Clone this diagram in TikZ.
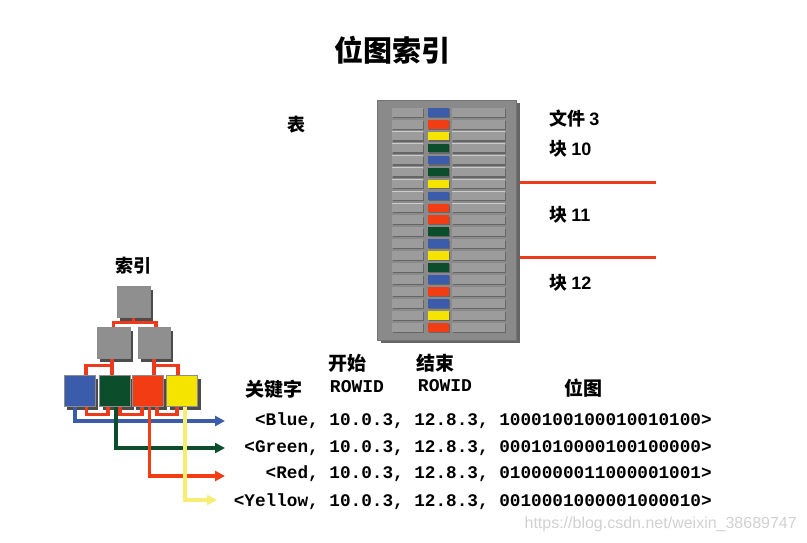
\documentclass[tikz,border=0pt]{standalone}
\usepackage{fontspec}
\newfontfamily\cjk{Noto Sans CJK SC}
\newfontfamily\lsans{Liberation Sans}
\newfontfamily\mono{Liberation Mono}
\usetikzlibrary{arrows.meta,shadows,calc}
\definecolor{cBlue}{HTML}{3B5CAA}
\definecolor{cRed}{HTML}{F23C14}
\definecolor{cYellow}{HTML}{F5E300}
\definecolor{cGreen}{HTML}{0C4E2B}
\definecolor{lineRed}{HTML}{EE3A1C}
\definecolor{lineYellow}{HTML}{F6EE72}
\definecolor{nodeGray}{HTML}{8F8F8F}
\definecolor{tblGray}{HTML}{8A8A8A}
\definecolor{cellGray}{HTML}{9C9C9C}
\tikzset{
  cjklabel/.style={inner sep=0pt, font=\cjk\bfseries\fontsize{18}{20}\selectfont},
  sidelabel/.style={inner sep=0pt, anchor=west, font=\cjk\bfseries\fontsize{18}{20}\selectfont},
  monolabel/.style={inner sep=0pt, font=\mono\bfseries\fontsize{18}{20}\selectfont},
  rowtext/.style={inner sep=0pt, anchor=base east, font=\mono\bfseries\fontsize{17.7}{20}\selectfont},
  treebox/.style={draw=black!45, line width=0.5pt, minimum width=31pt, minimum height=31pt, inner sep=0pt,
    general shadow={fill=black!70, shadow xshift=3pt, shadow yshift=-3pt}},
  link/.style={draw=lineRed, line width=3.3pt},
  keyarrow/.style={line width=3.2pt, -{Triangle[length=10pt,width=10pt]}},
  blockline/.style={draw=lineRed, line width=3pt},
}
\begin{document}
\begin{tikzpicture}[x=1pt,y=-1pt]
\useasboundingbox (0,0) rectangle (807,542);
\fill[white] (0,0) rectangle (807,542);

% title
\node[inner sep=0pt, font=\cjk\bfseries\fontsize{29}{32}\selectfont] (title) at (392,50) {位图索引};
\node[cjklabel] (biao) at (296,125) {表};

% table
\node[fill=tblGray, draw=black!55, line width=0.6pt, minimum width=139pt, minimum height=240pt, inner sep=0pt,
  general shadow={fill=black!60, shadow xshift=3pt, shadow yshift=-3pt}] (tbl) at (447,220) {};
\foreach \c [count=\i from 0] in {cBlue,cRed,cYellow,cGreen,cBlue,cGreen,cYellow,cBlue,cRed,cRed,cGreen,cBlue,cYellow,cGreen,cBlue,cRed,cBlue,cYellow,cRed}{
  \pgfmathsetmacro\yt{108+\i*11.94}
  \fill[black!60] (393,\yt+1.2) rectangle (424,\yt+9.8);
  \fill[black!20] (391.8,\yt-0.4) rectangle (423,\yt+8.6);
  \fill[cellGray] (392.4,\yt) rectangle (423,\yt+8.6);
  \fill[black!60] (453,\yt+1.2) rectangle (506,\yt+9.8);
  \fill[black!20] (451.8,\yt-0.4) rectangle (505,\yt+8.6);
  \fill[cellGray] (452.4,\yt) rectangle (505,\yt+8.6);
  \fill[black!60] (429,\yt+1.2) rectangle (450,\yt+9.8);
  \fill[\c] (428,\yt) rectangle (449,\yt+8.6);
}

% block separators and labels
\coordinate (s1a) at (520,182); \coordinate (s1b) at (656,182);
\coordinate (s2a) at (520,257); \coordinate (s2b) at (656,257);
\draw[blockline] (s1a) -- (s1b);
\draw[blockline] (s2a) -- (s2b);
\node[sidelabel] (file) at (549,119) {文件 {\lsans\bfseries 3}};
\node[sidelabel] (b10) at (549,149) {块 {\lsans\bfseries 10}};
\node[sidelabel] (b11) at (549,215) {块 {\lsans\bfseries 11}};
\node[sidelabel] (b12) at (549,283) {块 {\lsans\bfseries 12}};

% index tree
\node[cjklabel] (idx) at (133,266) {索引};
\node[treebox, fill=nodeGray, minimum width=33pt] (top) at (133.5,302) {};
\node[treebox, fill=nodeGray, minimum width=33pt] (midL) at (113.5,343) {};
\node[treebox, fill=nodeGray, minimum width=32pt] (midR) at (154,343) {};
\node[treebox, fill=cBlue] (lB) at (79.5,391) {};
\node[treebox, fill=cGreen] (lG) at (115,391) {};
\node[treebox, fill=cRed] (lR) at (148,391) {};
\node[treebox, fill=cYellow] (lY) at (182,391) {};

\draw[link] (top.south) -- ++(0,4.5) coordinate (t1);
\draw[link] (t1) -| (midL.north);
\draw[link] (t1) -| ([xshift=2pt]midR.north);
\draw[link] ([xshift=-1.5pt]midL.south) -- ++(0,7) coordinate (m1);
\draw[link] (m1) -| ([xshift=6.5pt]lB.north);
\draw[link] (m1) -- ([xshift=-3pt]lG.north);
\draw[link] (midR.south) -- ++(0,7) coordinate (m2);
\draw[link] (m2) -- ([xshift=6pt]lR.north);
\draw[link] (m2) -| ([xshift=-4pt]lY.north);
% leaf chain
\draw[link] ([xshift=7pt]lB.south) |- ++(10,8) -| ([xshift=-7pt]lG.south);
\draw[link] ([xshift=5pt]lG.south) |- ++(10,8) -| ([xshift=-6pt]lR.south);
\draw[link] ([xshift=9pt]lR.south) |- ++(10,8) -| ([xshift=-5pt]lY.south);

% key arrows
\coordinate (eB) at (225,421);
\coordinate (eG) at (225,448);
\coordinate (eR) at (225,476);
\coordinate (eY) at (217,500);
\draw[keyarrow, cBlue] ([xshift=-4.5pt]lB.south) |- (eB);
\draw[keyarrow, cGreen] ([xshift=1pt]lG.south) |- (eG);
\draw[keyarrow, cRed] ([xshift=1.5pt]lR.south) |- (eR);
\draw[keyarrow, lineYellow] ([xshift=3pt]lY.south) |- (eY);

% headers
\node[cjklabel, font=\cjk\bfseries\fontsize{19}{21}\selectfont] (hkey) at (274,389) {关键字};
\node[cjklabel, font=\cjk\bfseries\fontsize{19}{21}\selectfont] (hs) at (347,363) {开始};
\node[monolabel] (hs2) at (357,387) {ROWID};
\node[cjklabel, font=\cjk\bfseries\fontsize{19}{21}\selectfont] (he) at (435,363) {结束};
\node[monolabel] (he2) at (445,386) {ROWID};
\node[cjklabel, font=\cjk\bfseries\fontsize{19}{21}\selectfont] (hbm) at (583,388) {位图};

% rows
\node[rowtext] (rB) at (712,425) {<Blue, 10.0.3, 12.8.3, 1000100100010010100>};
\node[rowtext] (rG) at (712,452) {<Green, 10.0.3, 12.8.3, 0001010000100100000>};
\node[rowtext] (rR) at (712,478) {<Red, 10.0.3, 12.8.3, 0100000011000001001>};
\node[rowtext] (rY) at (712,506) {<Yellow, 10.0.3, 12.8.3, 0010001000001000010>};

% watermark
\node[inner sep=0pt, anchor=east, text=black!18, font=\lsans\fontsize{16}{18}\selectfont] (wm) at (797,524) {https://blog.csdn.net/weixin\_38689747};
\end{tikzpicture}
\end{document}
